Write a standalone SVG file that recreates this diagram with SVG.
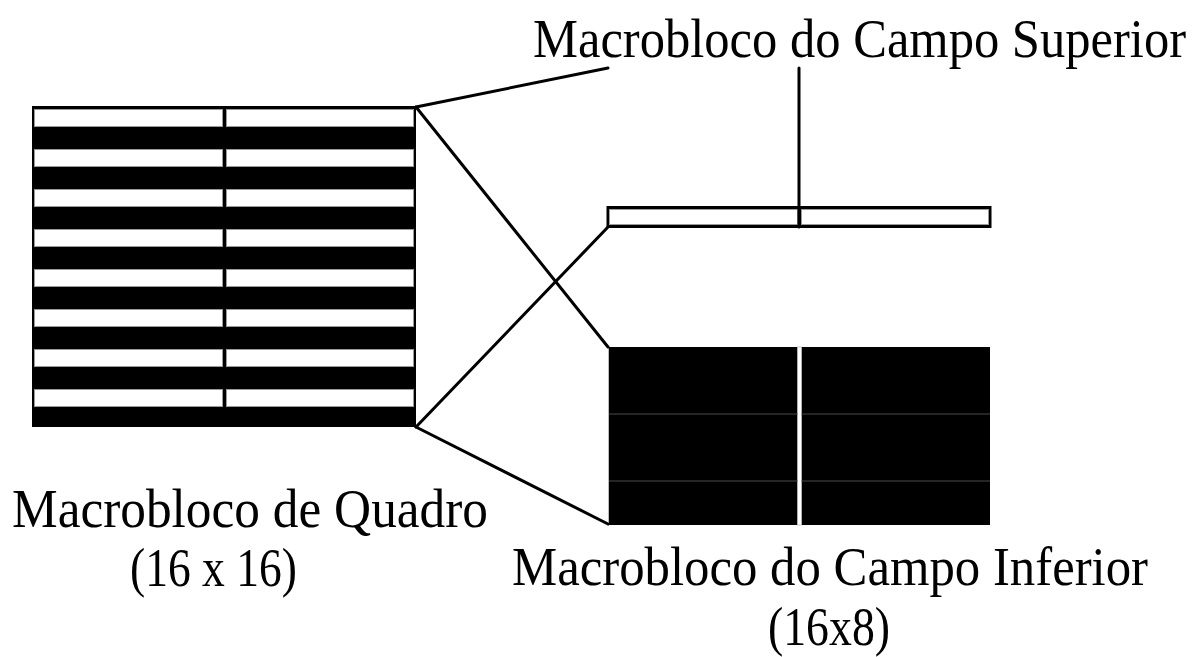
<svg xmlns="http://www.w3.org/2000/svg" width="1196" height="657" viewBox="0 0 1196 657">
<style>
.lbl{font-family:"Liberation Serif","Times New Roman",serif;font-size:54px;fill:#000}
.cell{fill:#fff;stroke:#9a9a9a;stroke-width:1}
.con{stroke:#000;stroke-width:3;fill:none;stroke-linecap:round}
.grid{stroke:#4a4a4a;stroke-width:1.2}
</style>
<rect width="1196" height="657" fill="#fff"/>
<g id="quadro">
<rect x="32" y="106" width="384" height="321" fill="#000"/>
<g id="quadro-rows">
<rect class="cell" x="34.5" y="109.5" width="188" height="17"/><rect class="cell" x="226.5" y="109.5" width="187" height="17"/>
<rect class="cell" x="34.5" y="149.5" width="188" height="17"/><rect class="cell" x="226.5" y="149.5" width="187" height="17"/>
<rect class="cell" x="34.5" y="189.5" width="188" height="17"/><rect class="cell" x="226.5" y="189.5" width="187" height="17"/>
<rect class="cell" x="34.5" y="229.5" width="188" height="17"/><rect class="cell" x="226.5" y="229.5" width="187" height="17"/>
<rect class="cell" x="34.5" y="269.5" width="188" height="17"/><rect class="cell" x="226.5" y="269.5" width="187" height="17"/>
<rect class="cell" x="34.5" y="309.5" width="188" height="17"/><rect class="cell" x="226.5" y="309.5" width="187" height="17"/>
<rect class="cell" x="34.5" y="349.5" width="188" height="17"/><rect class="cell" x="226.5" y="349.5" width="187" height="17"/>
<rect class="cell" x="34.5" y="389.5" width="188" height="17"/><rect class="cell" x="226.5" y="389.5" width="187" height="17"/>
</g>
<text class="lbl" x="12" y="527" textLength="476" lengthAdjust="spacingAndGlyphs">Macrobloco de Quadro</text>
<text class="lbl" x="130" y="586" textLength="167" lengthAdjust="spacingAndGlyphs">(16 x 16)</text>
</g>
<g id="campo-superior">
<rect x="606.5" y="206" width="385" height="22" fill="#000"/>
<rect class="cell" x="609.5" y="209.5" width="188" height="15"/>
<rect class="cell" x="801.5" y="209.5" width="187" height="15"/>
<text class="lbl" x="533" y="57" textLength="653" lengthAdjust="spacingAndGlyphs">Macrobloco do Campo Superior</text>
</g>
<g id="campo-inferior">
<rect x="608" y="347" width="382" height="178" fill="#000"/>
<line x1="608.5" y1="347" x2="608.5" y2="525" stroke="#bbb" stroke-width="1"/>
<rect x="797.5" y="347" width="4" height="178" fill="#fff" stroke="#bbb" stroke-width="0.8"/>
<line class="grid" x1="609" y1="414" x2="797.5" y2="414"/>
<line class="grid" x1="801.5" y1="414" x2="990" y2="414"/>
<line class="grid" x1="609" y1="481" x2="797.5" y2="481"/>
<line class="grid" x1="801.5" y1="481" x2="990" y2="481"/>
<text class="lbl" x="512" y="585" textLength="636" lengthAdjust="spacingAndGlyphs">Macrobloco do Campo Inferior</text>
<text class="lbl" x="768" y="645" textLength="122" lengthAdjust="spacingAndGlyphs">(16x8)</text>
</g>
<g id="connectors">
<line class="con" x1="416" y1="107" x2="608" y2="68"/>
<line class="con" x1="416" y1="107" x2="608" y2="347"/>
<line class="con" x1="416" y1="427" x2="608" y2="227"/>
<line class="con" x1="416" y1="427" x2="608" y2="524"/>
<line class="con" x1="799" y1="68" x2="799" y2="227" stroke-linecap="butt"/>
</g>
</svg>
